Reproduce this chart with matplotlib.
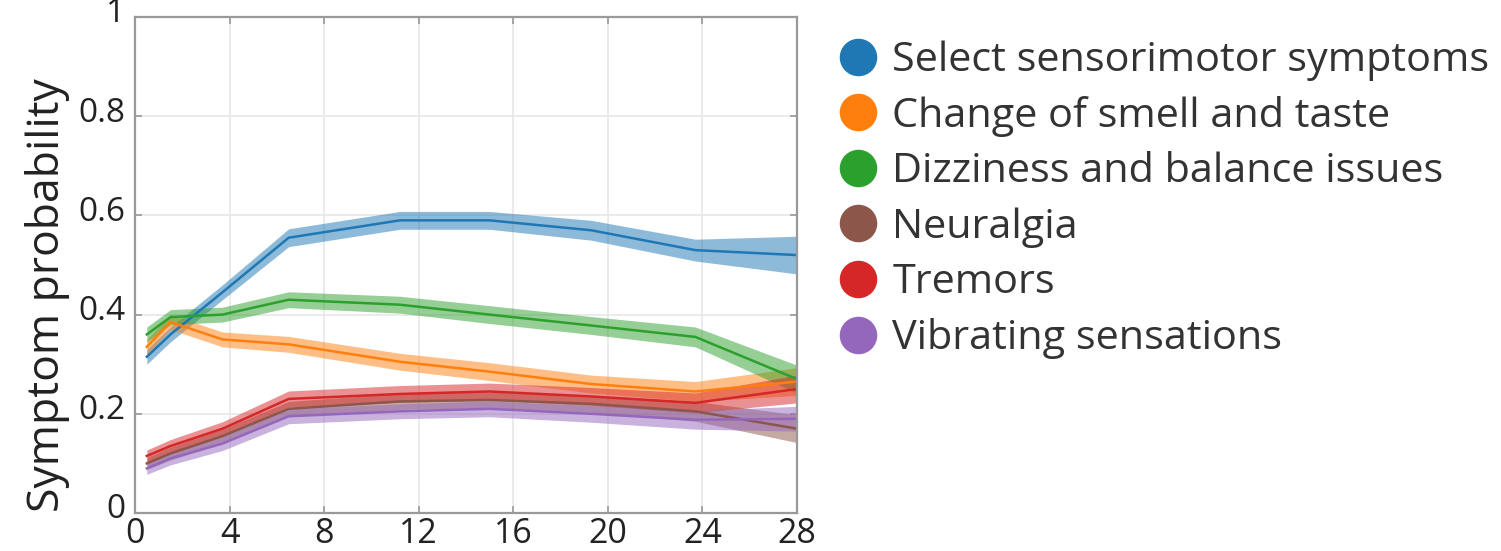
import matplotlib
matplotlib.use("Agg")
import matplotlib.pyplot as plt
import matplotlib.transforms as mtransforms
from matplotlib.lines import Line2D
import numpy as np

plt.rcParams['font.family'] = ['Open Sans', 'DejaVu Sans']

# months since infection
months = [0.5, 1.5, 3.7, 6.5, 11.2, 15, 19.3, 23.7, 28]

labels = [
    "Select sensorimotor symptoms",
    "Change of smell and taste",
    "Dizziness and balance issues",
    "Neuralgia",
    "Tremors",
    "Vibrating sensations",
]
colors = ["#1f77b4", "#ff7f0e", "#2ca02c", "#8c564b", "#d62728", "#9467bd"]

sensorimotor = [0.315, 0.36, 0.445, 0.555, 0.59, 0.59, 0.57, 0.53, 0.52]
smell_taste = [0.335, 0.385, 0.35, 0.34, 0.305, 0.285, 0.26, 0.245, 0.265]
dizziness = [0.36, 0.395, 0.40, 0.43, 0.42, 0.40, 0.378, 0.355, 0.27]
neuralgia = [0.10, 0.12, 0.155, 0.21, 0.225, 0.228, 0.22, 0.205, 0.17]
tremors = [0.115, 0.135, 0.17, 0.23, 0.24, 0.245, 0.235, 0.222, 0.25]
vibrating = [0.09, 0.11, 0.14, 0.195, 0.205, 0.21, 0.20, 0.188, 0.19]

# half width of the shaded band
sensorimotor_err = [0.015, 0.015, 0.015, 0.018, 0.018, 0.018, 0.02, 0.022, 0.038]
smell_taste_err = [0.015, 0.015, 0.015, 0.016, 0.017, 0.018, 0.018, 0.02, 0.028]
dizziness_err = [0.015, 0.015, 0.015, 0.016, 0.017, 0.018, 0.018, 0.02, 0.028]
neuralgia_err = [0.012, 0.013, 0.014, 0.015, 0.016, 0.016, 0.017, 0.02, 0.028]
tremors_err = [0.012, 0.013, 0.014, 0.016, 0.017, 0.017, 0.018, 0.02, 0.028]
vibrating_err = [0.012, 0.013, 0.014, 0.015, 0.015, 0.016, 0.017, 0.019, 0.025]

series = [sensorimotor, smell_taste, dizziness, neuralgia, tremors, vibrating]
errors = [sensorimotor_err, smell_taste_err, dizziness_err, neuralgia_err, tremors_err, vibrating_err]

fig = plt.figure(figsize=(15.01, 5.51), dpi=100)
ax = fig.add_axes([135 / 1501, 1 - 513 / 551, (797 - 135) / 1501, (513 - 17) / 551])

for vals, err, c in zip(series, errors, colors):
    v = np.array(vals)
    e = np.array(err)
    ax.fill_between(months, v - e, v + e, color=c, alpha=0.5, linewidth=0)
    ax.plot(months, v, color=c, linewidth=1.8)

ax.set_xlim(0, 28)
ax.set_ylim(0, 1)
ax.set_xticks(range(0, 29, 4))
ax.set_yticks([0, 0.2, 0.4, 0.6, 0.8, 1])
ax.set_yticklabels(["0", "0.2", "0.4", "0.6", "0.8", "1"])
ax.grid(True, color="#e8e8e8", linewidth=1.2)
ax.set_axisbelow(True)
for s in ax.spines.values():
    s.set_color("#999999")
    s.set_linewidth(1.6)
ax.tick_params(direction="in", length=5, width=1.2, color="#999999",
               labelcolor="#222222", top=True, right=True)
ax.tick_params(axis="x", pad=3, labelsize=24.5)
ax.tick_params(axis="y", pad=7, labelsize=24)

# y tick labels sit a little above their ticks, as in the original
shift = mtransforms.ScaledTranslation(0, 7 / 100, fig.dpi_scale_trans)
for lbl in ax.get_yticklabels():
    lbl.set_transform(lbl.get_transform() + shift)

ax.set_ylabel("Symptom probability", fontsize=32, color="#222222")
ax.yaxis.set_label_coords(-0.098, 0.44)

handles = [Line2D([], [], marker="o", linestyle="none", markersize=26,
                  markerfacecolor=c, markeredgecolor=c) for c in colors]
fig.legend(handles, labels, loc="upper left", bbox_to_anchor=(821 / 1501, 1 - 24 / 551),
           frameon=False, fontsize=29.8, labelspacing=0.36, handletextpad=0.32,
           handlelength=1.0, borderaxespad=0, labelcolor="#333333")

fig.savefig("out.png", dpi=100, facecolor="white")
